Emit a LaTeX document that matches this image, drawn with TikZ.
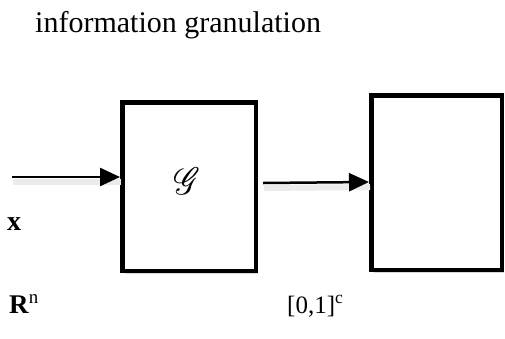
\documentclass[tikz,border=0pt]{standalone}
\usepackage{fontspec}
\setmainfont{Liberation Serif}
\usepackage{mathrsfs}
\usetikzlibrary{arrows.meta,shadows}
\begin{document}
\begin{tikzpicture}[x=1pt,y=-1pt,
  blockbox/.style={draw=black,line width=4.5pt,fill=white,inner sep=0pt,
    drop shadow={opacity=0.3,shadow xshift=2.5pt,shadow yshift=-3.5pt}},
  flow/.style={line width=2.5pt,-{Triangle[length=20pt,width=18pt]},
    preaction={draw=black!8,line width=6pt,transform canvas={xshift=1pt,yshift=-5pt},-{}}},
  lbl/.style={inner sep=0pt,anchor=base west}]
\useasboundingbox (0,0) rectangle (505,338);
\node[lbl,font=\fontsize{30}{36}\selectfont] (title) at (35,32) {information granulation};
\node[blockbox,minimum width=133.5pt,minimum height=168.5pt] (g) at (189,186.5) {};
\node[inner sep=0pt] (glyph) at (187,181) {\scalebox{3.4}[3.8]{$\mathscr{G}$}};
\node[blockbox,minimum width=130.5pt,minimum height=174.5pt] (out) at (436.5,182.5) {};
\coordinate (in) at (12,177);
\draw[flow] (in) -- (g.west |- 0,177);
\draw[flow] (263,183) -- (out.west |- 0,182);
\node[lbl,font=\fontsize{28}{32}\selectfont\bfseries] (x) at (7,230) {x};
\node[lbl,font=\fontsize{27}{32}\selectfont] (rn) at (9,313) {\textbf{R}\textsuperscript{n}};
\node[lbl,font=\fontsize{25}{30}\selectfont] (unit) at (287,313) {[0,1]\textsuperscript{c}};
\end{tikzpicture}
\end{document}
